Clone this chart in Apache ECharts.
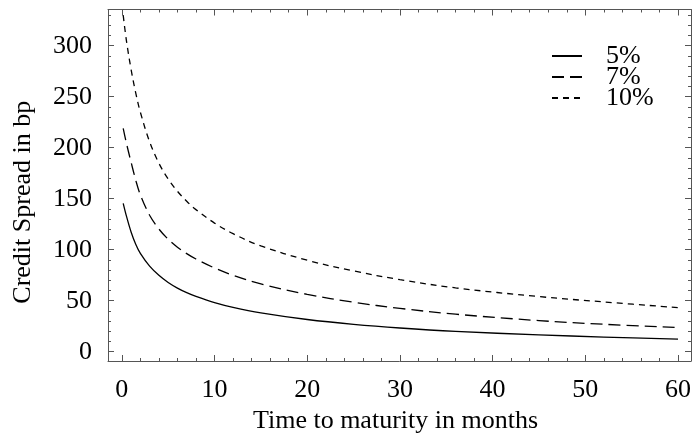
<!DOCTYPE html>
<html>
<head>
<meta charset="utf-8">
<script src="https://cdn.jsdelivr.net/npm/echarts@6/dist/echarts.min.js"></script>
<style>html,body{margin:0;padding:0;background:#fff;}#c{width:695px;height:439px;}</style>
</head>
<body>
<div id="c"></div>
<script>
var months = [0.15, 0.5, 1, 1.5, 2, 3, 4, 5, 6, 7, 8, 10, 12, 15, 20, 25, 30, 36, 45, 52, 60];
var spread5 = [145.5, 132.9, 117.4, 105.4, 96.4, 83.9, 74.9, 67.9, 62.4, 57.9, 54.2, 48.2, 43.5, 38.1, 31.6, 26.85, 23.25, 19.95, 16.5, 14.4, 12.3];
var spread7 = [219, 204.3, 185.8, 168.3, 153.8, 133.8, 120.3, 110.3, 102.5, 96.2, 90.9, 82.1, 74.9, 66.5, 56.25, 48.5, 42.5, 36.8, 30.5, 26.9, 23.7];
var spread10 = [330, 304.8, 276.8, 253.8, 234.8, 205.8, 184.8, 169.3, 157.3, 147.5, 139.3, 126.1, 115.7, 103.7, 89.7, 79.2, 70.7, 62.6, 54.05, 48.8, 43.2];
var xMajor = [0, 10, 20, 30, 40, 50, 60];
var xMinor = [2, 4, 6, 8, 12, 14, 16, 18, 22, 24, 26, 28, 32, 34, 36, 38, 42, 44, 46, 48, 52, 54, 56, 58];
var yMajor = [0, 50, 100, 150, 200, 250, 300];
var yMinor = [10, 20, 30, 40, 60, 70, 80, 90, 110, 120, 130, 140, 160, 170, 180, 190, 210, 220, 230, 240, 260, 270, 280, 290, 310, 320, 330];
var seriesNames = ['5%', '7%', '10%'];

function pairs(ys) { return months.map(function (m, i) { return [m, ys[i]]; }); }

var FONT = 'Liberation Serif';
var FS = 26;
var XMIN = -1.49, XMAX = 61.4, YMIN = -9.1, YMAX = 335.5;
var axisCol = '#555';

function xAx(pos, ticks, len, labels, showLine) {
  return {
    type: 'value', position: pos, min: XMIN, max: XMAX,
    axisLine: { show: showLine, onZero: false, lineStyle: { color: axisCol, width: 1 } },
    axisTick: { show: true, inside: true, length: len, customValues: ticks, lineStyle: { color: axisCol, width: 1 } },
    axisLabel: labels ? { show: true, customValues: ticks, color: '#000', fontFamily: FONT, fontSize: FS, margin: 16 } : { show: false },
    splitLine: { show: false }
  };
}
function yAx(pos, ticks, len, labels, showLine) {
  return {
    type: 'value', position: pos, min: YMIN, max: YMAX,
    axisLine: { show: showLine, onZero: false, lineStyle: { color: axisCol, width: 1 } },
    axisTick: { show: true, inside: true, length: len, customValues: ticks, lineStyle: { color: axisCol, width: 1 } },
    axisLabel: labels ? { show: true, customValues: ticks, color: '#000', fontFamily: FONT, fontSize: FS, margin: 16 } : { show: false },
    splitLine: { show: false }
  };
}

var xAxes = [xAx('bottom', xMajor, 6, true, true), xAx('bottom', xMinor, 3, false, false), xAx('top', xMajor, 6, false, true), xAx('top', xMinor, 3, false, false)];
xAxes[0].name = 'Time to maturity in months';
xAxes[0].nameLocation = 'middle';
xAxes[0].nameGap = 44;
xAxes[0].nameTextStyle = { color: '#000', fontFamily: FONT, fontSize: FS, padding: [0, 8, 0, 0] };

var yAxes = [yAx('left', yMajor, 6, true, true), yAx('left', yMinor, 3, false, false), yAx('right', yMajor, 6, false, true), yAx('right', yMinor, 3, false, false)];
yAxes[0].name = 'Credit Spread in bp';
yAxes[0].nameLocation = 'middle';
yAxes[0].nameRotate = 90;
yAxes[0].nameGap = 72;
yAxes[0].nameTextStyle = { color: '#000', fontFamily: FONT, fontSize: FS, padding: [0, 34, 0, 0] };

var dashes = ['solid', [12, 6], [6, 5]];
var datasets = [spread5, spread7, spread10];

var chart = echarts.init(document.getElementById('c'), null, { renderer: 'canvas' });
chart.setOption({
  animation: false,
  backgroundColor: '#fff',
  grid: { left: 108, top: 9.5, width: 583, height: 351.5, containLabel: false },
  xAxis: xAxes,
  yAxis: yAxes,
  legend: {
    orient: 'vertical', left: 551, top: 43, padding: 0,
    itemWidth: 30, itemHeight: 20, itemGap: -5,
    itemStyle: { opacity: 0 },
    textStyle: { color: '#000', fontFamily: FONT, fontSize: FS, padding: [0, 0, 0, 19] },
    data: seriesNames
  },
  series: seriesNames.map(function (n, i) {
    return {
      name: n, type: 'line', xAxisIndex: 0, yAxisIndex: 0,
      data: pairs(datasets[i]), showSymbol: false, symbol: 'none',
      smooth: 0.35,
      lineStyle: { color: '#000', width: 1.3, type: dashes[i] },
      itemStyle: { color: '#000' }
    };
  })
});
</script>
</body>
</html>
